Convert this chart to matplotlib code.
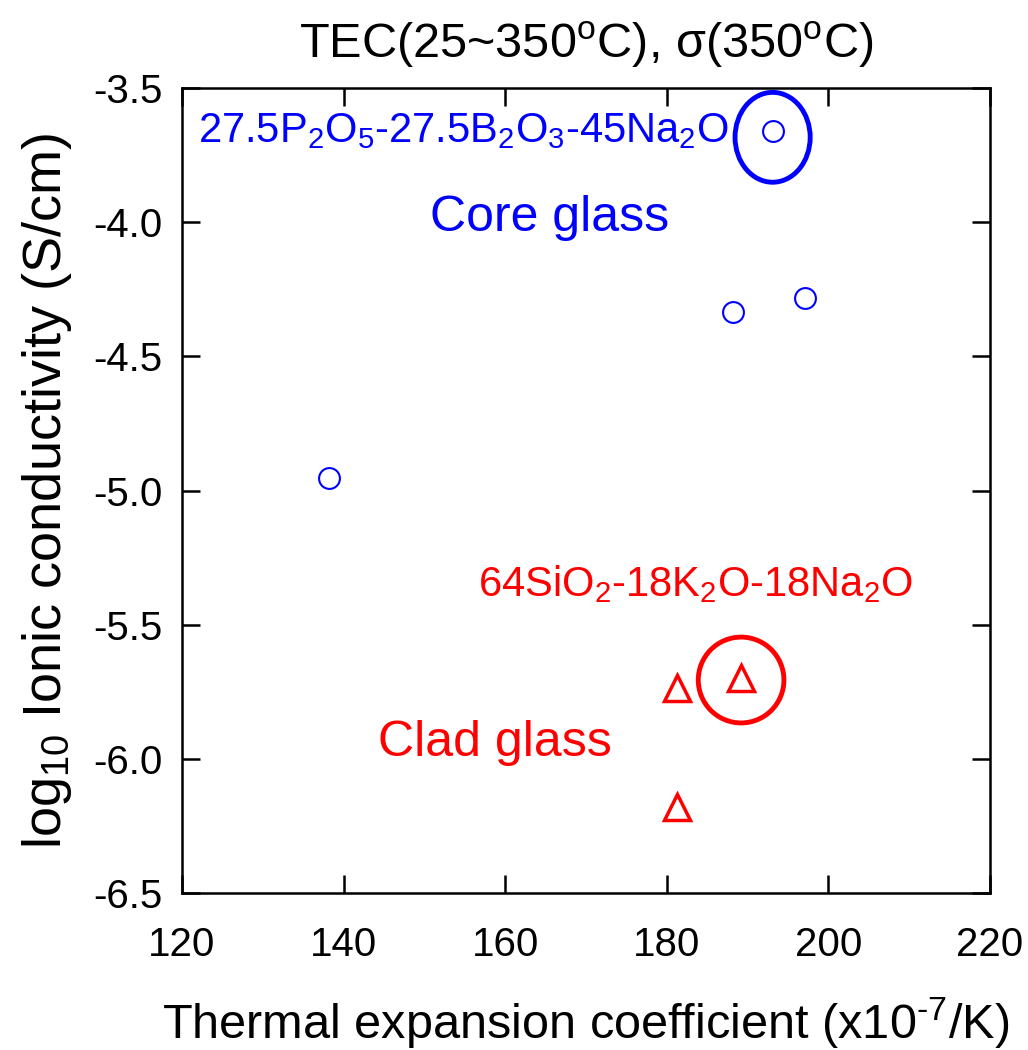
import matplotlib.pyplot as plt
from matplotlib.patches import Ellipse

plt.rcParams['font.family'] = ['Liberation Sans', 'DejaVu Sans']
plt.rcParams['mathtext.fontset'] = 'custom'
plt.rcParams['mathtext.rm'] = 'Liberation Sans'
plt.rcParams['mathtext.it'] = 'Liberation Sans'

# core glass (circles)
core_tec = [193.1, 188.2, 197.1, 138.2]
core_sigma = [-3.66, -4.335, -4.283, -4.954]

# clad glass (triangles)
clad_tec = [189.2, 181.3, 181.3]
clad_sigma = [-5.70, -5.736, -6.18]

x_ticks = [120, 140, 160, 180, 200, 220]
y_ticks = [-3.5, -4.0, -4.5, -5.0, -5.5, -6.0, -6.5]


def make_plot():
    fig = plt.figure(figsize=(10.28, 10.5), dpi=100)
    ax = fig.add_axes([0.177, 0.1495, 0.786, 0.7665])

    ax.plot(core_tec, core_sigma, 'o', ms=15, mfc='none', mec='#0000ff', mew=1.5)
    ax.plot(clad_tec, clad_sigma, '^', ms=19, mfc='none', mec='#ff0000', mew=2.5)

    # highlight rings
    ax.add_patch(Ellipse((core_tec[0], -3.683), 9.3, 0.335, fill=False,
                         ec='#0000ff', lw=3.5, clip_on=False))
    ax.add_patch(Ellipse((clad_tec[0], -5.706), 10.6, 0.32, fill=False,
                         ec='#ff0000', lw=3.5, clip_on=False))

    ax.text(122.0, -3.66, r'27.5P$_2$O$_5$-27.5B$_2$O$_3$-45Na$_2$O',
            color='#0000ff', fontsize=30, va='center', ha='left')
    ax.text(165.5, -3.985, 'Core glass', color='#0000ff', fontsize=36,
            va='center', ha='center')
    ax.text(183.6, -5.35, r'64SiO$_2$-18K$_2$O-18Na$_2$O', color='#ff0000',
            fontsize=30, va='center', ha='center')
    ax.text(158.7, -5.94, 'Clad glass', color='#ff0000', fontsize=36,
            va='center', ha='center')

    ax.set_xlim(120, 220)
    ax.set_ylim(-6.5, -3.5)
    ax.set_xticks(x_ticks)
    ax.set_yticks(y_ticks)
    ax.set_yticklabels(['%.1f' % v for v in y_ticks])
    ax.tick_params(direction='in', length=13, width=1.8, labelsize=29,
                   top=True, right=True)
    ax.tick_params(axis='x', pad=24)
    ax.tick_params(axis='y', pad=14)
    for s in ax.spines.values():
        s.set_linewidth(1.8)

    ax.set_xlabel(r'Thermal expansion coefficient (x10$^{\text{-}7}$/K)',
                  fontsize=35)
    ax.xaxis.set_label_coords(0.5, -0.128)
    ax.set_ylabel(r'log$_{10}$ Ionic conductivity (S/cm)', fontsize=39,
                  labelpad=14)
    ax.set_title(r'TEC(25~350$^{\rm o}$C), σ(350$^{\rm o}$C)', fontsize=35,
                 pad=22)

    fig.savefig('out.png', dpi=100)


if __name__ == "__main__":
    make_plot()
